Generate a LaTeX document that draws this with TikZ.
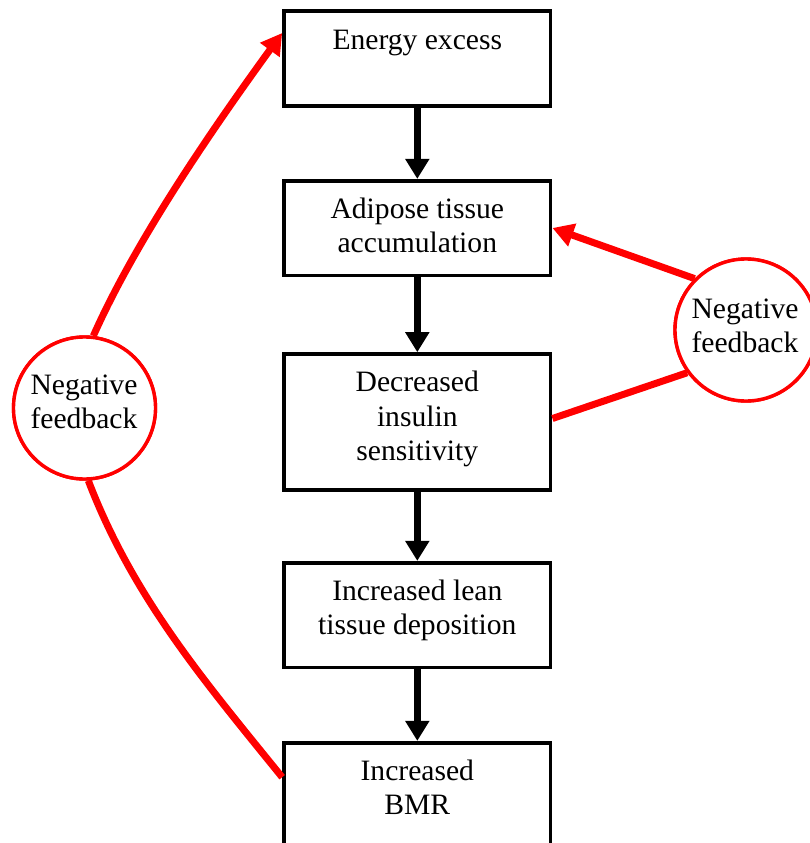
\documentclass[tikz,border=0pt]{standalone}
\usepackage{fontspec}
\setmainfont{Liberation Serif}
\usetikzlibrary{arrows.meta}
\begin{document}
\begin{tikzpicture}[x=1pt,y=-1pt,
  box/.style={draw=black, line width=3.6pt, minimum width=266.7pt, inner sep=0pt},
  txt/.style={font=\fontsize{29.6}{34.4}\selectfont, align=center, inner sep=0pt, anchor=north},
  fb/.style={circle, draw=red, line width=3.4pt, minimum size=142pt, inner sep=0pt, fill=white},
  flow/.style={line width=7.5pt, -{Triangle[length=20pt,width=23pt]}},
  neg/.style={red, line width=7pt},
  negarrow/.style={neg, -{Triangle[length=21pt,width=23pt]}}]
\useasboundingbox (0,0) rectangle (810,843);
\clip (0,0) rectangle (810,843);

% boxes
\node[box, minimum height=95pt]  (b1) at (417.3,58.5) {};
\node[box, minimum height=94.6pt] (b2) at (417.3,228) {};
\node[box, minimum height=136pt] (b3) at (417.3,422) {};
\node[box, minimum height=104.8pt] (b4) at (417.3,615.1) {};
\node[box, minimum height=105pt] (b5) at (417.3,795.2) {};

% box texts
\node[txt] (t1) at (417.3,27) {\rule{0pt}{22pt}Energy excess};
\node[txt] (t2) at (417.3,196) {\rule{0pt}{22pt}Adipose tissue\\accumulation};
\node[txt] (t3) at (417.3,369.7) {\rule{0pt}{22pt}Decreased\\insulin\\sensitivity};
\node[txt] (t4) at (417.3,578) {\rule{0pt}{22pt}Increased lean\\tissue deposition};
\node[txt] (t5) at (417.3,758) {\rule{0pt}{22pt}Increased\\BMR};

% flow arrows
\draw[flow] (b1.south) -- (b2.north);
\draw[flow] (b2.south) -- (b3.north);
\draw[flow] (b3.south) -- (b4.north);
\draw[flow] (b4.south) -- (b5.north);

% feedback circles
\node[fb] (rc) at (746,330) {};
\node[fb] (lc) at (84.5,408) {};

% feedback connectors
\draw[negarrow] (rc.135.5) -- (b2.east);
\draw[neg] (rc.216) -- ([yshift=3.5pt]b3.east);
\draw[negarrow] (lc.83) .. controls +(66:100pt) and +(234:130pt) .. ([yshift=25.5pt]b1.west);
\draw[neg] (lc.273) .. controls +(-69:125pt) and +(129:125pt) .. ([yshift=18pt]b5.west);

% redraw circles on top
\node[fb] at (rc.center) {};
\node[fb] at (lc.center) {};

% circle texts
\node[txt] (rt) at (745,296) {\rule{0pt}{22pt}Negative\\feedback};
\node[txt] (lt) at (84,372) {\rule{0pt}{22pt}Negative\\feedback};
\end{tikzpicture}
\end{document}
